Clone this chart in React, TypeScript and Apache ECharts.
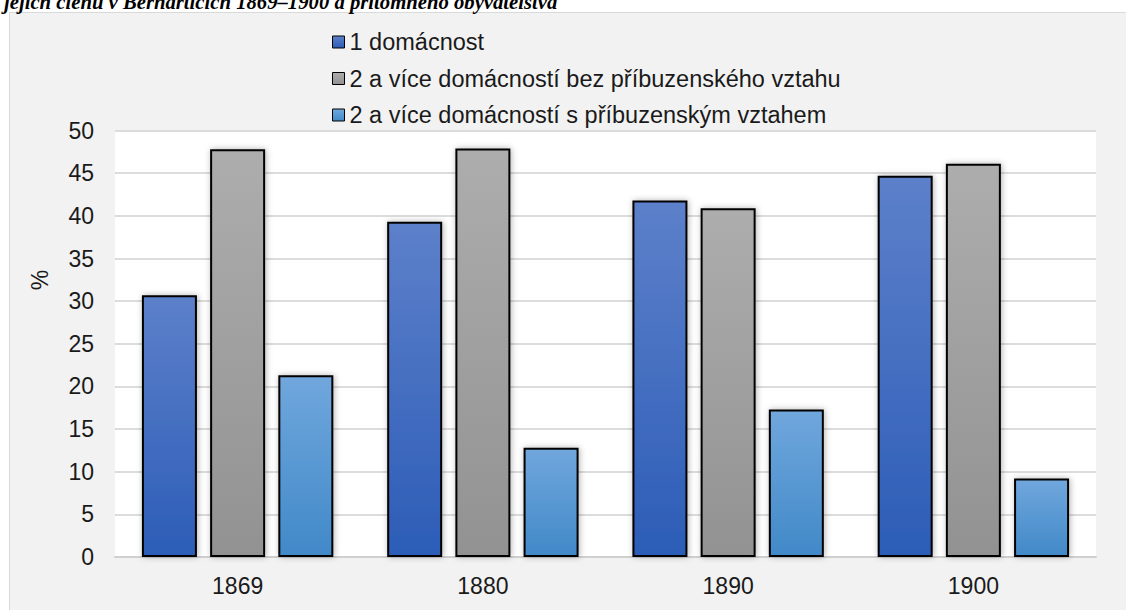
import React, { useEffect, useRef } from "react";
import * as echarts from "echarts";

const titleText = "jejich členů v Bernarticích 1869–1900 a přítomného obyvatelstva";
const years = ["1869", "1880", "1890", "1900"];
const seriesNames = [
  "1 domácnost",
  "2 a více domácností bez příbuzenského vztahu",
  "2 a více domácností s příbuzenským vztahem",
];
const oneHousehold = [30.7, 39.3, 41.8, 44.7];
const multiNoKin = [47.8, 47.9, 40.9, 46.1];
const multiKin = [21.3, 12.8, 17.3, 9.2];
const yTicks = { min: 0, max: 50, interval: 5 };
const yAxisName = "%";

const FONT = "'Liberation Sans', Arial, sans-serif";

export default function App() {
  const ref = useRef<HTMLDivElement>(null);
  useEffect(() => {
    if (!ref.current) return;
    const chart = echarts.init(ref.current, null, { renderer: "svg" });
    const grad = (a: string, b: string) =>
      new echarts.graphic.LinearGradient(0, 0, 0, 1, [
        { offset: 0, color: a },
        { offset: 1, color: b },
      ]);
    const fills = [
      grad("#5d80ca", "#2c5db7"),
      grad("#adadad", "#929292"),
      grad("#70a7dd", "#4189c8"),
    ];
    const datas = [oneHousehold, multiNoKin, multiKin];
    chart.setOption({
      animation: false,
      backgroundColor: "#ffffff",
      graphic: [
        {
          type: "rect",
          z: -10,
          shape: { x: 9.5, y: 12.5, width: 1300, height: 800 },
          style: { fill: "#f2f2f2", stroke: "#d9d9d9", lineWidth: 1 },
        },
        {
          type: "text",
          x: 4,
          y: 2,
          style: {
            text: titleText,
            font: "italic bold 20.7px 'Liberation Serif', 'Times New Roman', serif",
            fill: "#000",
            verticalAlign: "middle",
            align: "left",
          },
        },
        {
          type: "text",
          x: 40,
          y: 280,
          rotation: Math.PI / 2,
          style: {
            text: yAxisName,
            font: `23px ${FONT}`,
            fill: "#1a1a1a",
            align: "center",
            verticalAlign: "middle",
          },
        },
      ],
      legend: {
        orient: "vertical",
        left: 327,
        top: 25,
        itemWidth: 12,
        itemHeight: 12,
        itemGap: 12.5,
        icon: "rect",
        itemStyle: { borderColor: "#000", borderWidth: 1 },
        textStyle: { fontSize: 23.5, fontFamily: FONT, color: "#1a1a1a", lineHeight: 23.5 },
        data: seriesNames,
      },
      grid: {
        left: 115,
        right: 30,
        top: 130.6,
        bottom: 53,
        show: true,
        backgroundColor: "#ffffff",
        borderWidth: 0,
      },
      xAxis: {
        type: "category",
        data: years,
        axisLine: { lineStyle: { color: "#d0d0d0", width: 2 } },
        axisTick: { show: false },
        axisLabel: { fontSize: 23, fontFamily: FONT, color: "#1a1a1a", margin: 17 },
      },
      yAxis: {
        type: "value",
        min: yTicks.min,
        max: yTicks.max,
        interval: yTicks.interval,
        axisLine: { show: false },
        axisTick: { show: false },
        axisLabel: { fontSize: 23, fontFamily: FONT, color: "#1a1a1a", margin: 21 },
        splitLine: { lineStyle: { color: "#dcdcdc", width: 2 } },
      },
      series: seriesNames.map((name, i) => ({
        name,
        type: "bar",
        data: datas[i],
        barWidth: 55,
        barGap: "24%",
        itemStyle: {
          color: fills[i],
          borderColor: "#000",
          borderWidth: 2,
          shadowBlur: 6,
          shadowColor: "rgba(0,0,0,0.3)",
          shadowOffsetX: 1,
        },
      })),
    });
    return () => chart.dispose();
  }, []);
  return (
    <div
      ref={ref}
      style={{ position: "fixed", left: 0, top: 0, width: 1126, height: 610 }}
    />
  );
}
